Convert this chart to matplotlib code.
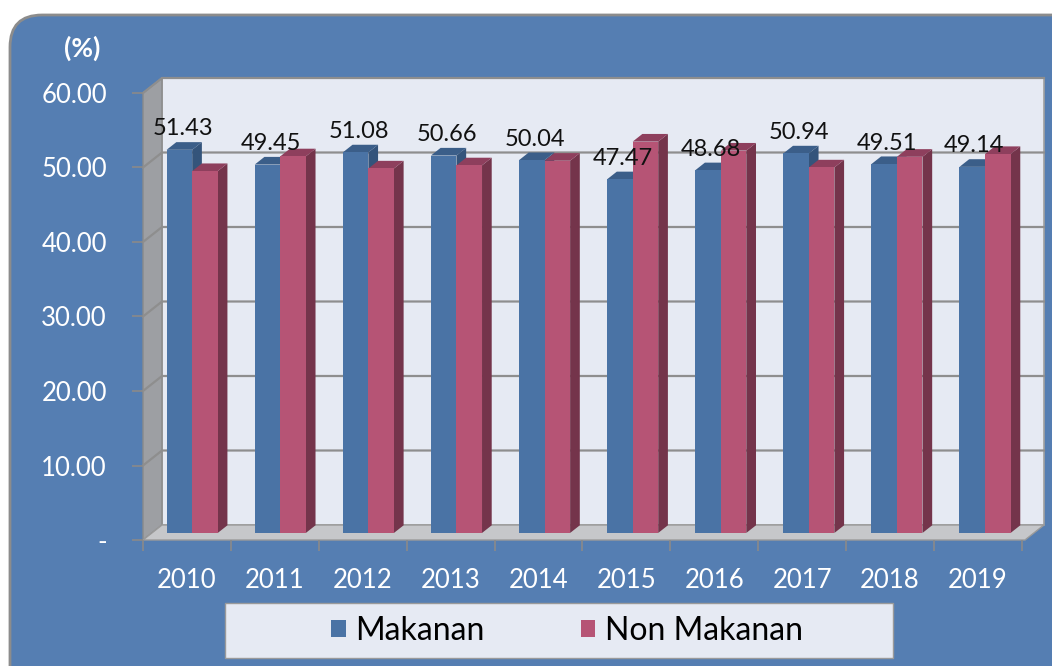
import matplotlib
matplotlib.use("Agg")
import matplotlib.pyplot as plt
from matplotlib import transforms
from matplotlib.patches import Polygon, Rectangle, FancyBboxPatch
import numpy as np

plt.rcParams['font.family'] = ['Lato', 'DejaVu Sans']

years = ['2010', '2011', '2012', '2013', '2014', '2015', '2016', '2017', '2018', '2019']
makanan = [51.43, 49.45, 51.08, 50.66, 50.04, 47.47, 48.68, 50.94, 49.51, 49.14]
non_makanan = [48.57, 50.55, 48.92, 49.34, 49.96, 52.53, 51.32, 49.06, 50.49, 50.86]
series_names = ['Makanan', 'Non Makanan']
yticks = [0, 10, 20, 30, 40, 50, 60]

W, H = 1052, 666
fig = plt.figure(figsize=(W / 100, H / 100), dpi=100)
fig.patch.set_facecolor('white')

# panel
panel = FancyBboxPatch((10, -60), 1150, H - 15 + 60,
                       boxstyle="round,pad=0,rounding_size=32",
                       transform=transforms.IdentityTransform(),
                       facecolor='#557EB2', edgecolor='#8C8C8C', linewidth=2, zorder=-5)
fig.patches.append(panel)

ax = fig.add_axes([143 / W, (H - 540) / H, 882 / W, 447 / H])
ax.set_facecolor('none')
xmin, xmax = -0.477, 9.535
ax.set_xlim(xmin, xmax)
ax.set_ylim(0, 60)
for s in ax.spines.values():
    s.set_visible(False)

DX, DY = 19, 15  # depth in pixels
d0, d1 = 0.47, 0.98


def P(x, y, d):
    px, py = ax.transData.transform((x, y))
    return (px + d * DX, py + d * DY)


ident = transforms.IdentityTransform()


def poly(pts, fc, ec='none', lw=0, z=1):
    p = Polygon(pts, closed=True, facecolor=fc, edgecolor=ec, linewidth=lw,
                transform=ident, clip_on=False, zorder=z)
    ax.add_artist(p)


ymax = 60
# back wall
poly([P(xmin, 0, 1), P(xmax, 0, 1), P(xmax, ymax, 1), P(xmin, ymax, 1)],
     '#E6EAF3', '#A0A0A0', 1.2, z=0.5)
# left wall
poly([P(xmin, 0, 0), P(xmin, ymax, 0), P(xmin, ymax, 1), P(xmin, 0, 1)],
     '#9D9FA3', '#8A8A8A', 1.0, z=0.6)
# floor
poly([P(xmin, 0, 0), P(xmax, 0, 0), P(xmax, 0, 1), P(xmin, 0, 1)],
     '#C6C7CA', '#9A9A9A', 1.0, z=0.6)
# gridlines
for v in yticks[1:]:
    pts = np.array([P(xmin, v, 0), P(xmin, v, 1), P(xmax, v, 1)])
    ax.add_line(plt.Line2D(pts[:, 0], pts[:, 1], color='#8E8E8E', lw=1.6,
                           transform=ident, clip_on=False, zorder=0.8))

colors = {
    'Makanan': ('#4A73A5', '#3B5E89', '#34547B'),
    'Non Makanan': ('#B65475', '#8E3F5D', '#74344B'),
}
bw = 0.29
offsets = [-0.31, -0.02]
for i in range(len(years)):
    for k, (name, vals) in enumerate(zip(series_names, [makanan, non_makanan])):
        v = vals[i]
        x0 = i + offsets[k]
        x1 = x0 + bw
        front, top, side = colors[name]
        z = 2 + i * 0.01 + k * 0.001
        poly([P(x1, 0, d0), P(x1, v, d0), P(x1, v, d1), P(x1, 0, d1)], side, z=z)
        poly([P(x0, v, d0), P(x1, v, d0), P(x1, v, d1), P(x0, v, d1)], top, z=z)
        poly([P(x0, 0, d0), P(x1, 0, d0), P(x1, v, d0), P(x0, v, d0)], front, z=z)

# data labels (Makanan)
lab_tr = transforms.offset_copy(ax.transData, fig=fig, x=d0 * DX + 2, y=d0 * DY + 21, units='dots')
for i, v in enumerate(makanan):
    ax.text(i + offsets[0] + bw / 2, v, f"{v:.2f}", transform=lab_tr,
            ha='center', va='center', fontsize=17, color='#111111', zorder=5)

# y ticks
ax.set_yticks(yticks)
ax.set_yticklabels(['-' if t == 0 else f"{t:.2f}" for t in yticks])
ax.tick_params(axis='y', length=8, width=1.2, color='#8A8A8A', pad=18,
               labelsize=18.5, labelcolor='white')
# x ticks
ax.set_xticks(range(len(years)))
ax.set_xticklabels(years)
ax.set_xticks([i - 0.5 for i in range(len(years) + 1)], minor=True)
ax.tick_params(axis='x', which='major', length=0, pad=20, labelsize=18.5, labelcolor='white')
ax.tick_params(axis='x', which='minor', length=8, width=1.2, color='#8A8A8A')

# (%) label
fig.text(82 / W, 1 - 48 / H, '(%)', color='white', fontsize=19, fontweight='bold',
         ha='center', va='center')

# legend box
lbox = Rectangle((225, H - 658), 668, 55, transform=ident, facecolor='#E6EAF3',
                 edgecolor='#9A9A9A', linewidth=1, zorder=1)
fig.patches.append(lbox)
handles = [Rectangle((0, 0), 1, 1, facecolor=colors[n][0]) for n in series_names]
leg = fig.legend(handles, series_names, loc='center', bbox_to_anchor=(567 / W, 1 - 631 / H),
                 ncol=2, frameon=False, fontsize=23, handlelength=0.45, handleheight=0.45,
                 handletextpad=0.3, columnspacing=3.0)

fig.savefig('out.png', dpi=100)
